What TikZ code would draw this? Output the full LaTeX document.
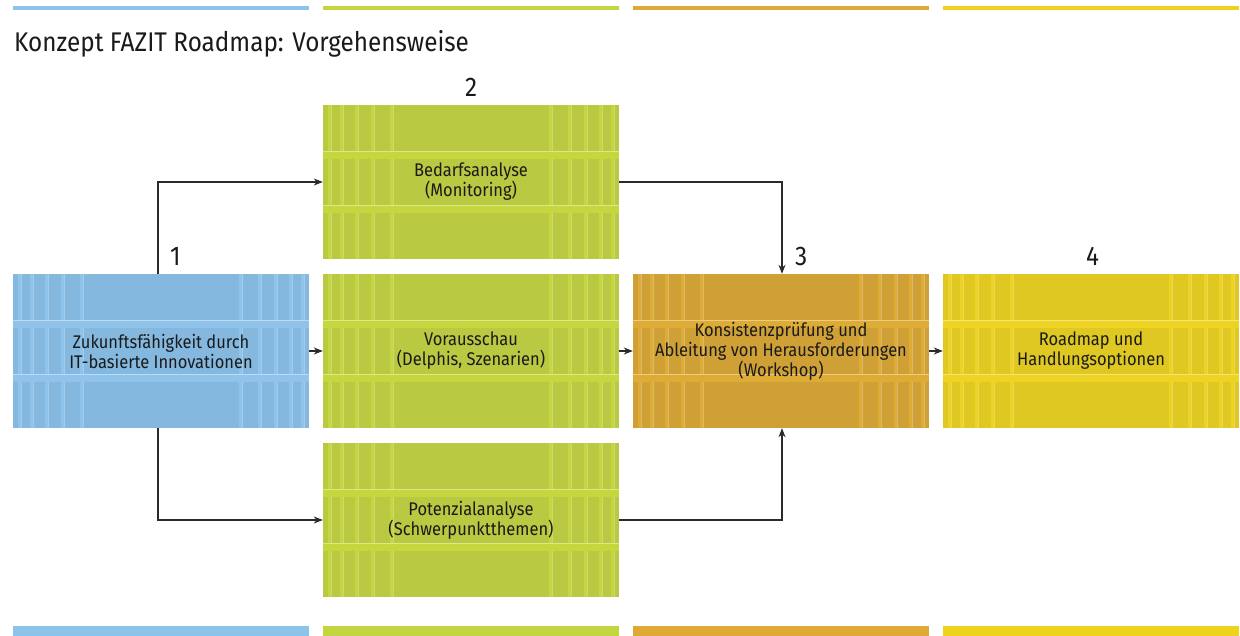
\documentclass[tikz,border=0pt]{standalone}
\usepackage{fontspec}
\setmainfont{Fira Sans}[FakeStretch=0.9]
\usetikzlibrary{arrows.meta}

\definecolor{blueBase}{HTML}{84B8DF}
\definecolor{blueStripe}{HTML}{8FC3EA}
\definecolor{blueBar}{HTML}{8CC3EA}
\definecolor{greenBase}{HTML}{B9C941}
\definecolor{greenStripe}{HTML}{C5D63E}
\definecolor{greenBar}{HTML}{C3D63F}
\definecolor{ochreBase}{HTML}{CFA035}
\definecolor{ochreStripe}{HTML}{DEAB34}
\definecolor{ochreBar}{HTML}{DEAA35}
\definecolor{yellowBase}{HTML}{DEC821}
\definecolor{yellowStripe}{HTML}{EED322}
\definecolor{yellowBar}{HTML}{EFD21E}
\definecolor{ink}{HTML}{1A1A1A}
\definecolor{wire}{HTML}{2A2A2A}

% one textured panel: name, left x, top y, base colour, stripe colour, label
\newcommand\panel[6]{%
  \fill[#4] ({#2},{#3}) rectangle ++(296,154);
  \foreach \s in {5,17,32,48,67,226,245,261,276,288}{
    \fill[#5] ({#2+\s},{#3}) rectangle ++(3,154);
    \draw[white,opacity=.28,line width=.5pt] ({#2+\s+3},{#3}) -- ++(0,154);
  }
  \foreach \h in {46,100}{
    \fill[#5] ({#2},{#3+\h}) rectangle ++(296,8);
    \draw[white,opacity=.4,line width=.5pt] ({#2},{#3+\h}) -- ++(296,0);
  }
  \node[panelbox] (#1) at ({#2+148},{#3+77}) {#6};
}

\begin{document}
\begin{tikzpicture}[x=1pt,y=-1pt,
  panelbox/.style={minimum width=296pt,minimum height=154pt,inner sep=0pt,
    align=center,text=ink,font=\fontsize{18.3}{20}\selectfont},
  stepnum/.style={anchor=base west,inner sep=0pt,text=ink,
    font=\fontsize{27}{30}\selectfont},
  conn/.style={draw=wire,line width=1.1pt,-{Stealth[length=9pt,width=7pt]}}]

\useasboundingbox[fill=white] (0,0) rectangle (1240,636);

% colour bars along the top and bottom edges
\foreach \x/\c in {13/blueBar,323/greenBar,633/ochreBar,943/yellowBar}{
  \fill[\c] (\x,6) rectangle ++(296,4);
  \fill[\c] (\x,626) rectangle ++(296,10);
}

\node[anchor=base west,inner sep=0pt,text=ink,font=\fontsize{27}{30}\selectfont]
  (title) at (14,52) {Konzept FAZIT Roadmap: Vorgehensweise};

\panel{start}{13}{274}{blueBase}{blueStripe}{Zukunftsfähigkeit durch\\IT-basierte Innovationen}
\panel{need}{323}{105}{greenBase}{greenStripe}{Bedarfsanalyse\\(Monitoring)}
\panel{fore}{323}{274}{greenBase}{greenStripe}{Vorausschau\\(Delphis, Szenarien)}
\panel{pot}{323}{443}{greenBase}{greenStripe}{Potenzialanalyse\\(Schwerpunktthemen)}
\panel{check}{633}{274}{ochreBase}{ochreStripe}{Konsistenzprüfung und\\Ableitung von Herausforderungen\\(Workshop)}
\panel{road}{943}{274}{yellowBase}{yellowStripe}{Roadmap und\\Handlungsoptionen}

\node[stepnum] (n1) at (170,266) {1};
\node[stepnum] (n2) at (465,97) {2};
\node[stepnum] (n3) at (795,266) {3};
\node[stepnum] (n4) at (1086,266) {4};

\draw[conn] ([xshift=-3pt]start.north) |- (need.west);
\draw[conn] ([xshift=-3pt]start.south) |- (pot.west);
\draw[conn] (start.east) -- (fore.west);
\draw[conn] (fore.east) -- (check.west);
\draw[conn] (check.east) -- (road.west);
\draw[conn] (need.east) -| ([xshift=1pt]check.north);
\draw[conn] (pot.east) -| ([xshift=1pt]check.south);
\end{tikzpicture}
\end{document}
